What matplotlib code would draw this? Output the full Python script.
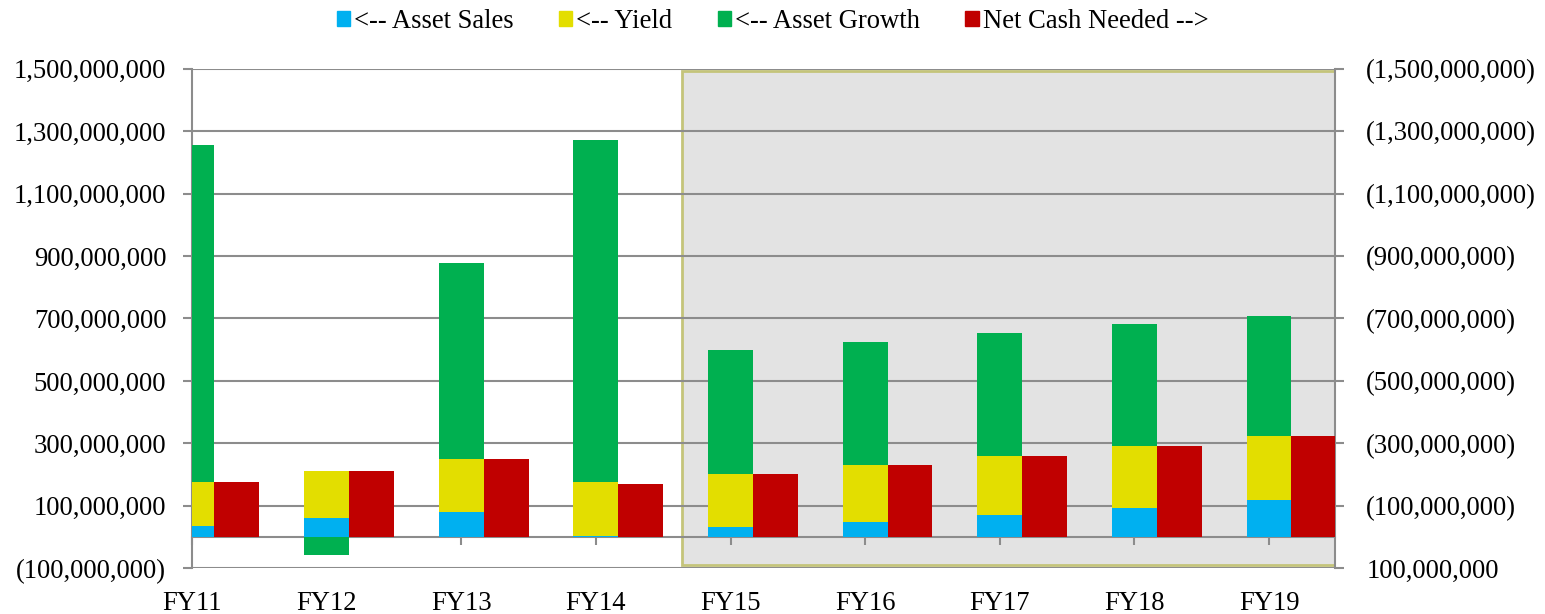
import matplotlib.pyplot as plt
from matplotlib.patches import Rectangle, Patch
from matplotlib.ticker import FuncFormatter
import numpy as np

plt.rcParams['font.family'] = ['Liberation Serif', 'DejaVu Serif']

years = ["FY11", "FY12", "FY13", "FY14", "FY15", "FY16", "FY17", "FY18", "FY19"]
asset_sales = [34e6, 62e6, 80e6, 5e6, 31e6, 49e6, 70e6, 94e6, 119e6]
yield_vals = [142e6, 149.5e6, 169e6, 170e6, 172e6, 181e6, 189e6, 198e6, 204e6]
asset_growth = [1079e6, -59e6, 629e6, 1097e6, 395e6, 396e6, 394e6, 390e6, 384e6]
net_cash = [-176e6, -211.5e6, -249e6, -170e6, -203e6, -230e6, -259e6, -292e6, -323e6]

c_blue = '#00b0f0'
c_yel = '#e3de00'
c_green = '#00b050'
c_red = '#c00000'
grid_c = '#8c8c8c'
fs = 19.2

fig = plt.figure(figsize=(15.45, 6.14), dpi=100)
ax = fig.add_axes([192 / 1545, 1 - 568.3 / 614, (1335 - 192) / 1545, (568.3 - 68.6) / 614])

x = np.arange(len(years))
w = 1 / 3

# stacked bars, positives up and negatives down like excel
pos = np.zeros(len(years))
neg = np.zeros(len(years))
for vals, col in [(asset_sales, c_blue), (yield_vals, c_yel), (asset_growth, c_green)]:
    v = np.array(vals)
    base = np.where(v >= 0, pos, neg)
    ax.bar(x, v, w, bottom=base, color=col, zorder=3)
    pos = pos + np.where(v >= 0, v, 0)
    neg = neg + np.where(v < 0, v, 0)

ax.set_xlim(0, 8.49)
ax.set_ylim(-100e6, 1500e6)
ax.set_yticks(np.arange(-100e6, 1500e6 + 1, 200e6))
ax.yaxis.set_major_formatter(FuncFormatter(
    lambda v, p: f"({abs(v):,.0f})" if v < 0 else f"{v:,.0f}"))
ax.grid(axis='y', color=grid_c, linewidth=1.5, zorder=1)
ax.set_axisbelow(True)

# shaded forecast region
ax.add_patch(Rectangle((3.636, -91e6), 8.49 - 3.636, 1493e6 + 91e6,
                       facecolor='#e3e3e3', edgecolor='#c4c47a', linewidth=2, zorder=0.3))

ax.spines['top'].set_visible(False)
ax.spines['right'].set_visible(False)
ax.spines['left'].set_color(grid_c)
ax.spines['left'].set_linewidth(1.5)
ax.spines['bottom'].set_position(('data', 0))
ax.spines['bottom'].set_color(grid_c)
ax.spines['bottom'].set_linewidth(1.5)
ax.spines['bottom'].set_zorder(2)

ax.set_xticks(x)
ax.set_xticklabels(years)
ax.tick_params(axis='x', length=6, width=1.5, color=grid_c, pad=33, labelsize=fs)
ax.tick_params(axis='y', length=6.5, width=1.5, color=grid_c, pad=12, labelsize=fs)

ax2 = ax.twinx()
ax2.bar(x + w, net_cash, w, color=c_red, zorder=3)
ax2.set_ylim(100e6, -1500e6)
ax2.set_yticks(np.arange(100e6, -1500e6 - 1, -200e6))
ax2.yaxis.set_major_formatter(FuncFormatter(
    lambda v, p: f"({abs(v):,.0f})" if v < 0 else f"{v:,.0f}"))
ax2.tick_params(axis='y', length=6.5, width=1.5, color=grid_c, pad=16, labelsize=fs)
for s in ['top', 'bottom', 'left']:
    ax2.spines[s].set_visible(False)
ax2.spines['right'].set_color(grid_c)
ax2.spines['right'].set_linewidth(1.5)

handles = [Patch(color=c_blue), Patch(color=c_yel), Patch(color=c_green), Patch(color=c_red)]
labels = ["<-- Asset Sales", "<-- Yield", "<-- Asset Growth", "Net Cash Needed -->"]
fig.legend(handles, labels, loc='upper center', bbox_to_anchor=(0.5, 1.025), ncol=4,
           frameon=False, fontsize=fs, handlelength=0.5, handleheight=0.5,
           handletextpad=0.15, columnspacing=1.7)

fig.savefig('out.png', dpi=100)
